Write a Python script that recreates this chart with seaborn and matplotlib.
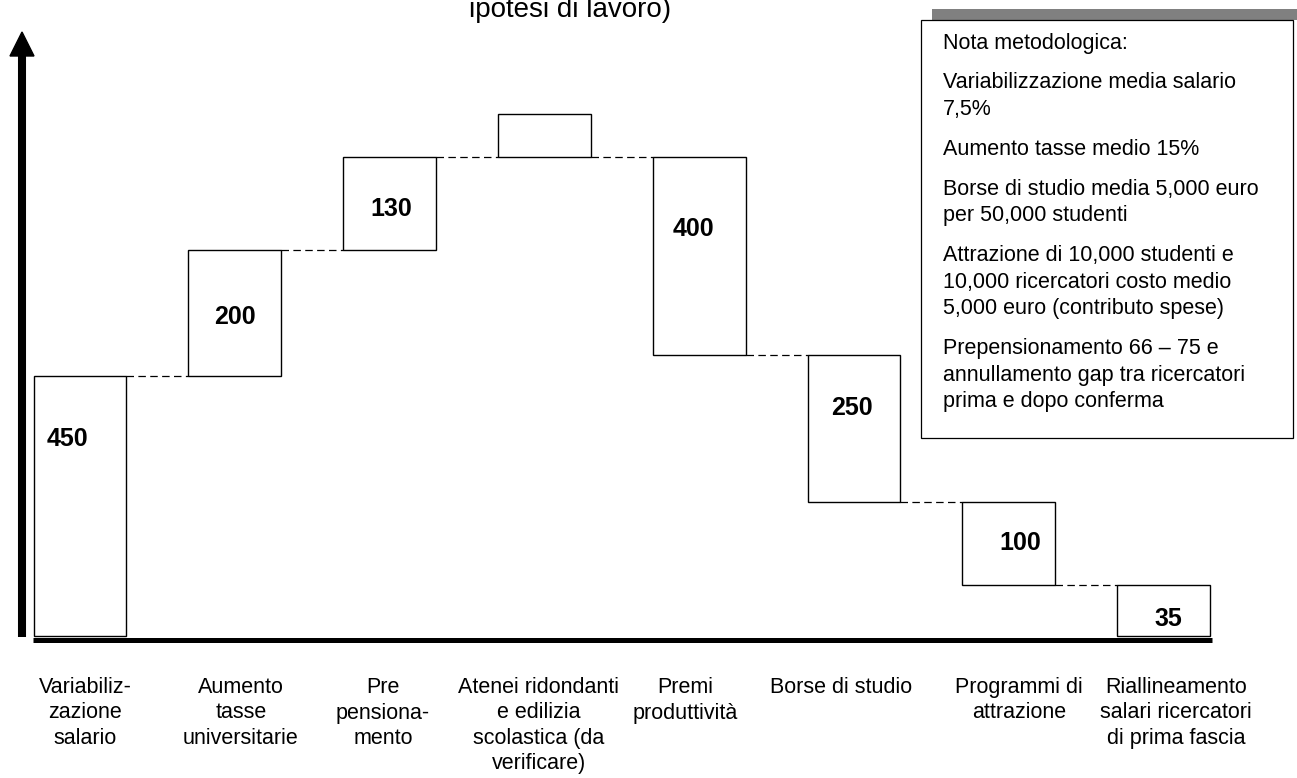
import matplotlib
matplotlib.use("Agg")
import matplotlib.pyplot as plt
import seaborn as sns
import numpy as np

''' DATA '''
categories = ["Variabiliz-\nzazione\nsalario",
              "Aumento\ntasse\nuniversitarie",
              "Pre\npensiona-\nmento",
              "Atenei ridondanti\ne edilizia\nscolastica (da\nverificare)",
              "Premi\nproduttività",
              "Borse di studio",
              "Programmi di\nattrazione",
              "Riallineamento\nsalari ricercatori\ndi prima fascia"]
value_labels = ["450", "200", "130", "", "400", "250", "100", "35"]
# box extents as drawn (not to scale with the labels)
bar_low = [0, 260, 386, 479, 281, 134, 51, 0]
bar_high = [260, 386, 479, 522, 479, 281, 134, 51]
note_lines = [["Nota metodologica:"],
              ["Variabilizzazione media salario", "7,5%"],
              ["Aumento tasse medio 15%"],
              ["Borse di studio media 5,000 euro", "per 50,000 studenti"],
              ["Attrazione di 10,000 studenti e", "10,000 ricercatori costo medio", "5,000 euro (contributo spese)"],
              ["Prepensionamento 66 \u2013 75 e", "annullamento gap tra ricercatori", "prima e dopo conferma"]]
title_txt = "ipotesi di lavoro)"

''' LAYOUT (pixel helpers) '''
W, H = 1297, 778
x0_px, step_px, base_px = 80.0, 154.8, 636.0
def px2x(p): return (p - x0_px) / step_px
def px2y(p): return base_px - p

sns.set_style("white")
plt.rcParams['font.family'] = ['Liberation Sans', 'DejaVu Sans']

fig = plt.figure(figsize=(W / 100, H / 100), dpi=100)
ax = fig.add_axes([0, 0, 1, 1])

heights = np.array(bar_high) - np.array(bar_low)
sns.barplot(x=categories, y=heights, bottom=bar_low, width=0.6, color="white",
            saturation=1, edgecolor="black", linewidth=1.0, errorbar=None, ax=ax)

# dashed connectors between neighbouring boxes
for i in range(len(categories) - 1):
    shared = set([bar_low[i], bar_high[i]]) & set([bar_low[i + 1], bar_high[i + 1]])
    lev = list(shared)[0]
    ax.plot([i + 0.3, i + 0.7], [lev, lev], color="black", lw=0.9,
            linestyle=(0, (6, 3.5)), zorder=1)

# value labels inside boxes
label_px = [(67.5, 439), (235, 317), (391, 208.5), None, (693.5, 229),
            (852, 408), (1020, 543), (1168, 619)]
for lab, pos in zip(value_labels, label_px):
    if pos is None or lab == "":
        continue
    ax.text(px2x(pos[0]), px2y(pos[1]), lab, ha="center", va="center",
            fontsize=18, fontweight="bold", color="black")

# category labels below the axis
cat_px = [85, 241, 383, 539, 685, 841, 1019, 1176]
for lab, cx in zip(categories, cat_px):
    for k, line in enumerate(lab.split("\n")):
        ax.text(px2x(cx), px2y(693 + 25.5 * k), line, ha="center", va="baseline",
                fontsize=15.5, color="black")

# thick baseline and arrow axis
ax.plot([px2x(33), px2x(1212)], [px2y(639.5), px2y(639.5)], color="black",
        lw=3.6, solid_capstyle="butt", zorder=3)
ax.plot([px2x(22), px2x(22)], [px2y(637), px2y(54)], color="black",
        lw=5.8, solid_capstyle="butt", zorder=3)
ax.fill([px2x(22), px2x(10), px2x(34)], [px2y(32), px2y(56), px2y(56)],
        color="black", zorder=3)

# note box
ax.fill([px2x(932), px2x(1300), px2x(1300), px2x(932)],
        [px2y(9), px2y(9), px2y(20), px2y(20)], color="#808080", lw=0, zorder=2)
ax.fill([px2x(921), px2x(1293), px2x(1293), px2x(921)],
        [px2y(20), px2y(20), px2y(438), px2y(438)], facecolor="white",
        edgecolor="black", lw=0.9, zorder=2)
yb = 48.7
for p, para in enumerate(note_lines):
    if p > 0:
        yb += 39.7
    for k, line in enumerate(para):
        if k > 0:
            yb += 26.7
        ax.text(px2x(943), px2y(yb), line, ha="left", va="baseline",
                fontsize=15.5, color="black", zorder=4)

# title (cut off at top in the original)
ax.text(px2x(570), px2y(17), title_txt, ha="center", va="baseline",
        fontsize=20, color="black")

ax.set_xlim(px2x(0), px2x(W))
ax.set_ylim(px2y(H), px2y(0))
ax.axis("off")

fig.savefig("out.png", dpi=100)
